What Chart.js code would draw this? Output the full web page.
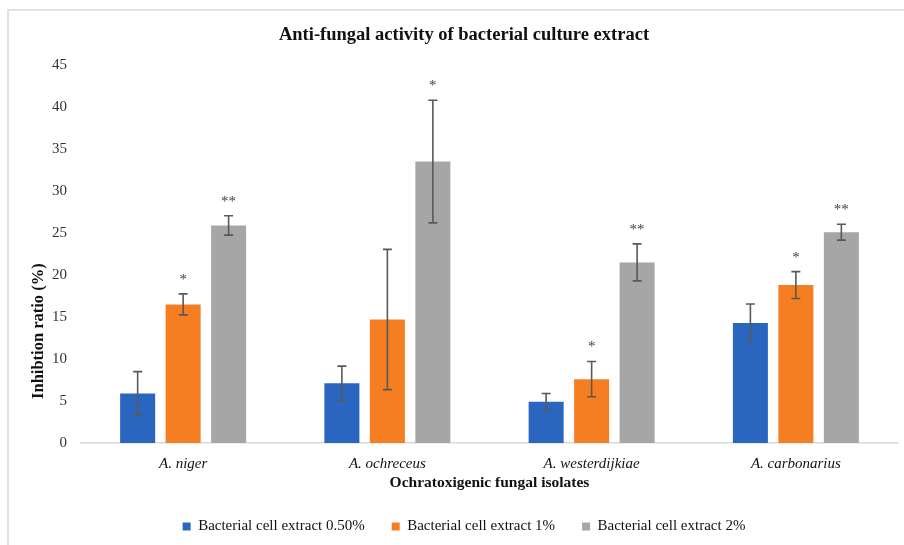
<!DOCTYPE html>
<html>
<head>
<meta charset="utf-8">
<script src="https://cdn.jsdelivr.net/npm/chart.js@4.4.0/dist/chart.umd.min.js"></script>
<style>
  html, body { margin: 0; padding: 0; background: #ffffff; }
  #wrap { position: relative; width: 904px; height: 545px; overflow: hidden; }
  #frame { position: absolute; left: 7px; top: 9px; width: 920px; height: 560px;
           border-top: 2px solid #e3e3e3; border-left: 2px solid #e3e3e3; }
  #c { position: absolute; left: 0; top: 0; }
</style>
</head>
<body>
<div id="wrap">
  <div id="frame"></div>
  <canvas id="c" width="904" height="545"></canvas>
</div>
<script>
// ---- data ----
const categories = ['A. niger', 'A. ochreceus', 'A. westerdijkiae', 'A. carbonarius'];
const seriesNames = ['Bacterial cell extract 0.50%', 'Bacterial cell extract 1%', 'Bacterial cell extract 2%'];
const extract050 = [5.9, 7.1, 4.9, 14.3];
const extract1   = [16.5, 14.7, 7.6, 18.8];
const extract2   = [25.9, 33.5, 21.5, 25.1];
const error050 = [2.6, 2.05, 1.0, 2.25];
const error1   = [1.25, 8.35, 2.1, 1.6];
const error2   = [1.15, 7.3, 2.2, 0.95];
const signif050 = ['', '', '', ''];
const signif1   = ['*', '', '*', '*'];
const signif2   = ['**', '*', '**', '**'];
const yTicksMax = 45;
const yTicksStep = 5;
const chartTitle = 'Anti-fungal activity of bacterial culture extract';
const xAxisTitle = 'Ochratoxigenic fungal isolates';
const yAxisTitle = 'Inhibtion ratio (%)';

const colors = ['#2a66c0', '#f57e22', '#a6a6a6'];
const SERIF = "'Liberation Serif', 'Times New Roman', serif";

const errors = [error050, error1, error2];
const signifs = [signif050, signif1, signif2];

const errorBarPlugin = {
  id: 'errorBars',
  afterDatasetsDraw(chart) {
    const ctx = chart.ctx;
    const yScale = chart.scales.y;
    ctx.save();
    chart.data.datasets.forEach((ds, i) => {
      const meta = chart.getDatasetMeta(i);
      meta.data.forEach((bar, j) => {
        const v = ds.data[j];
        const e = errors[i][j];
        const x = bar.x;
        const yTop = yScale.getPixelForValue(v + e);
        const yBot = yScale.getPixelForValue(v - e);
        ctx.strokeStyle = '#595959';
        ctx.lineWidth = 1.6;
        ctx.beginPath();
        ctx.moveTo(x, yTop); ctx.lineTo(x, yBot);
        ctx.moveTo(x - 4.5, yTop); ctx.lineTo(x + 4.5, yTop);
        ctx.moveTo(x - 4.5, yBot); ctx.lineTo(x + 4.5, yBot);
        ctx.stroke();
        const s = signifs[i][j];
        if (s) {
          ctx.fillStyle = '#404040';
          ctx.font = '15px ' + SERIF;
          ctx.textAlign = 'center';
          ctx.textBaseline = 'middle';
          ctx.fillText(s, x, yTop - 14);
        }
      });
    });
    ctx.restore();
  }
};

const yTitlePlugin = {
  id: 'yTitle',
  afterDraw(chart) {
    const ctx = chart.ctx;
    const a = chart.chartArea;
    ctx.save();
    ctx.translate(39, a.top + 0.704 * (a.bottom - a.top));
    ctx.rotate(-Math.PI / 2);
    ctx.fillStyle = '#111111';
    ctx.font = 'bold 16.5px ' + SERIF;
    ctx.textAlign = 'center';
    ctx.textBaseline = 'middle';
    ctx.fillText(yAxisTitle, 0, 0);
    ctx.restore();
  }
};

new Chart(document.getElementById('c'), {
  type: 'bar',
  data: {
    labels: categories,
    datasets: [
      { label: seriesNames[0], data: extract050, backgroundColor: colors[0], borderWidth: 0 },
      { label: seriesNames[1], data: extract1,   backgroundColor: colors[1], borderWidth: 0 },
      { label: seriesNames[2], data: extract2,   backgroundColor: colors[2], borderWidth: 0 }
    ]
  },
  options: {
    responsive: false,
    animation: false,
    devicePixelRatio: 1,
    categoryPercentage: 0.668,
    barPercentage: 0.77,
    layout: { padding: { left: 30, right: 6, top: 0, bottom: 1 } },
    plugins: {
      title: {
        display: true,
        text: chartTitle,
        color: '#111111',
        font: { family: SERIF, size: 18.5, weight: 'bold' },
        padding: { top: 24, bottom: 18.8 }
      },
      legend: {
        position: 'bottom',
        labels: {
          boxWidth: 8,
          boxHeight: 8,
          padding: 27,
          color: '#111111',
          font: { family: SERIF, size: 15 }
        }
      },
      tooltip: { enabled: false }
    },
    scales: {
      x: {
        grid: { display: false, drawTicks: false },
        border: { display: true, color: '#d9d9d9', width: 1.5 },
        ticks: { color: '#111111', padding: 12, font: { family: SERIF, size: 15, style: 'italic' } },
        title: {
          display: true,
          text: xAxisTitle,
          color: '#111111',
          font: { family: SERIF, size: 15.5, weight: 'bold' },
          padding: { top: 0, bottom: 0 }
        },
        afterFit(scale) { scale.height = 49; }
      },
      y: {
        min: 0,
        max: yTicksMax,
        grid: { display: false, drawTicks: false },
        border: { display: false },
        ticks: { stepSize: yTicksStep, color: '#333333', padding: 14, font: { family: SERIF, size: 15 } },
        afterFit(scale) { scale.width = 51; }
      }
    }
  },
  plugins: [errorBarPlugin, yTitlePlugin]
});
</script>
</body>
</html>
